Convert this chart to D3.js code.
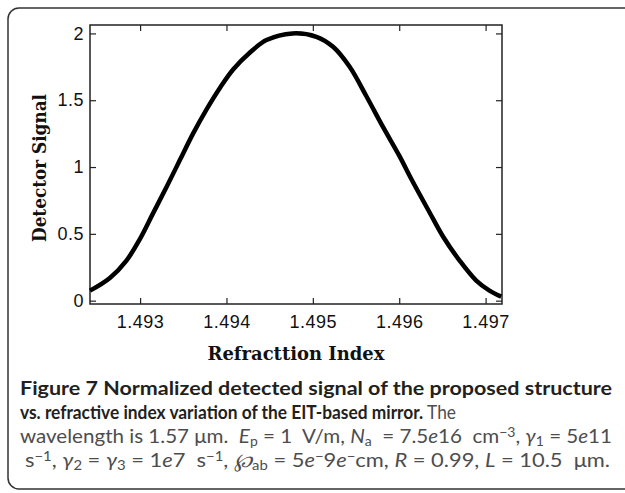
<!DOCTYPE html>
<html lang="en">
<head>
<meta charset="UTF-8">
<title>Figure 7</title>
<script src="https://d3js.org/d3.v7.min.js"></script>
<style>
    body{ margin: 0; background: #fff; }
    svg{ display: block; }
    .tick text{ font-family: "Liberation Sans", Arial, sans-serif; font-size: 18px; fill: #111; letter-spacing: 0.5px; }
    .lbl{ font-family: "DejaVu Serif", serif; font-weight: bold; font-size: 19px; fill: #111; }
    .cap{ font-family: Lato, "Open Sans", sans-serif; font-size: 18px; }
</style>
</head>
<body>
<script>

    // curve
    const refIndex = [1.49242, 1.49265, 1.492842, 1.492997, 1.493151, 1.493306, 1.493459,
                      1.493613, 1.493768, 1.493922, 1.494077, 1.494269, 1.494463, 1.494763, 1.495041,
                      1.495234, 1.495426, 1.49562, 1.495812, 1.496005, 1.49614, 1.496352, 1.496507,
                      1.496699, 1.496892, 1.497045, 1.497181]
    const signal = [0.075, 0.17, 0.30, 0.46, 0.655, 0.85, 1.05,
                    1.25, 1.43, 1.59, 1.73, 1.855, 1.95, 2.0, 1.975,
                    1.90, 1.75, 1.53, 1.30, 1.08, 0.91, 0.66, 0.48,
                    0.30, 0.15, 0.075, 0.03]
    const xTicks = [1.493, 1.494, 1.495, 1.496, 1.497]
    const yTicks = [0, 0.5, 1, 1.5, 2]

    const width = 625
    const height = 493
    const plot = {left: 90, right: 502, top: 25, bottom: 304}

    let svg = d3.select("body").append("svg")
                .attr("width", width).attr("height", height)

    // figure frame, open to the right
    svg.append("rect")
        .attr("x", 8).attr("y", 8)
        .attr("width", 660).attr("height", 481)
        .attr("rx", 11)
        .attr("fill", "none").attr("stroke", "#333").attr("stroke-width", 1.5)

    const x = d3.scaleLinear().domain([1.49242, 1.49719]).range([plot.left, plot.right])
    const y = d3.scaleLinear().domain([-0.025, 2.063]).range([plot.bottom, plot.top])

    const fmtY = d => d === 0 ? "0" : d3.format("")(d)

    // axes with inward ticks, box style
    svg.append("g").attr("transform", `translate(0,${plot.bottom})`)
        .call(d3.axisBottom(x).tickValues(xTicks).tickFormat(d3.format(".3f")).tickSize(-6).tickPadding(11))
    svg.append("g").attr("transform", `translate(0,${plot.top})`)
        .call(d3.axisTop(x).tickValues(xTicks).tickFormat("").tickSize(-6))
    svg.append("g").attr("transform", `translate(${plot.left},0)`)
        .call(d3.axisLeft(y).tickValues(yTicks).tickFormat(fmtY).tickSize(-6).tickPadding(6))
    svg.append("g").attr("transform", `translate(${plot.right},0)`)
        .call(d3.axisRight(y).tickValues(yTicks).tickFormat("").tickSize(-6))

    svg.selectAll(".domain").remove()
    svg.selectAll(".tick line").attr("stroke", "#222").attr("stroke-width", 1.2)

    svg.append("rect")
        .attr("x", plot.left).attr("y", plot.top)
        .attr("width", plot.right - plot.left).attr("height", plot.bottom - plot.top)
        .attr("fill", "none").attr("stroke", "#222").attr("stroke-width", 1.5)

    // the curve
    const line = d3.line()
        .x((d, i) => x(refIndex[i]))
        .y(d => y(d))
        .curve(d3.curveCatmullRom.alpha(0.5))

    svg.append("path")
        .datum(signal)
        .attr("d", line)
        .attr("fill", "none")
        .attr("stroke", "#000")
        .attr("stroke-width", 4.5)

    // axis labels
    svg.append("text").attr("class", "lbl")
        .attr("x", 296).attr("y", 360)
        .attr("text-anchor", "middle")
        .attr("textLength", 177).attr("lengthAdjust", "spacingAndGlyphs")
        .text("Refracttion Index")

    svg.append("text").attr("class", "lbl")
        .attr("transform", "translate(46,168) rotate(-90)")
        .attr("text-anchor", "middle")
        .attr("textLength", 148).attr("lengthAdjust", "spacingAndGlyphs")
        .text("Detector Signal")

    // caption, justified like the journal layout
    const capLines = [
        {y: 395, len: 592, parts: [["Figure 7 Normalized detected signal of the proposed structure", "b"]]},
        {y: 419, len: 436, parts: [["vs. refractive index variation of the EIT-based mirror.", "b"], [" The", "n"]]},
        {y: 443, len: 592, parts: [["wavelength is 1.57 μm.  ", "n"], ["E", "i"], ["p", "sub"], [" = 1  V/m, ", "n"],
                                   ["N", "i"], ["a", "sub"], ["  = 7.5", "n"], ["e", "i"], ["16  cm", "n"], ["−3", "sup"],
                                   [", ", "n"], ["γ", "i"], ["1", "sub"], [" = 5", "n"], ["e", "i"], ["11", "n"]]},
        {y: 467, len: 585, parts: [["s", "n"], ["−1", "sup"], [", ", "n"], ["γ", "i"], ["2", "sub"], [" = ", "n"], ["γ", "i"], ["3", "sub"],
                                   [" = 1", "n"], ["e", "i"], ["7  s", "n"], ["−1", "sup"], [", ", "n"], ["℘", "i"], ["ab", "sub"],
                                   [" = 5", "n"], ["e", "i"], ["−", "sup"], ["9", "n"], ["e", "i"], ["−", "sup"], ["cm, ", "n"],
                                   ["R", "i"], [" = 0.99, ", "n"], ["L", "i"], [" = 10.5  μm.", "n"]]}
    ]
    const capX = [20, 20, 20, 25]

    let capTexts = capLines.map((ln, li) => {
        let t = svg.append("text").attr("class", "cap")
            .attr("x", capX[li]).attr("y", ln.y)
            .attr("xml:space", "preserve")
        let shift = 0
        ln.parts.forEach(p => {
            let s = t.append("tspan").text(p[0])
            let want = 0
            if (p[1] === "b") s.attr("font-weight", "bold").attr("fill", "#231f20")
            else s.attr("fill", "#4d4d4d")
            if (p[1] === "i") s.attr("font-style", "italic")
            if (p[1] === "sub") { s.attr("font-size", "12px"); want = 3 }
            if (p[1] === "sup") { s.attr("font-size", "12px"); want = -6 }
            s.attr("dy", want - shift)
            shift = want
        })
        return t
    })

    // font size between what the first two lines want, then fit every line
    const w1 = capTexts[0].node().getComputedTextLength()
    const w2 = capTexts[1].node().getComputedTextLength()
    const capSize = 18 * Math.sqrt((592 / w1) * (436 / w2))
    svg.selectAll(".cap").style("font-size", capSize + "px")
    svg.selectAll(".cap tspan").filter(function(){ return this.getAttribute("font-size") === "12px" })
        .attr("font-size", (capSize * 0.68) + "px")
    capTexts.forEach((t, i) => {
        t.attr("textLength", capLines[i].len).attr("lengthAdjust", "spacingAndGlyphs")
    })

</script>
</body>
</html>
